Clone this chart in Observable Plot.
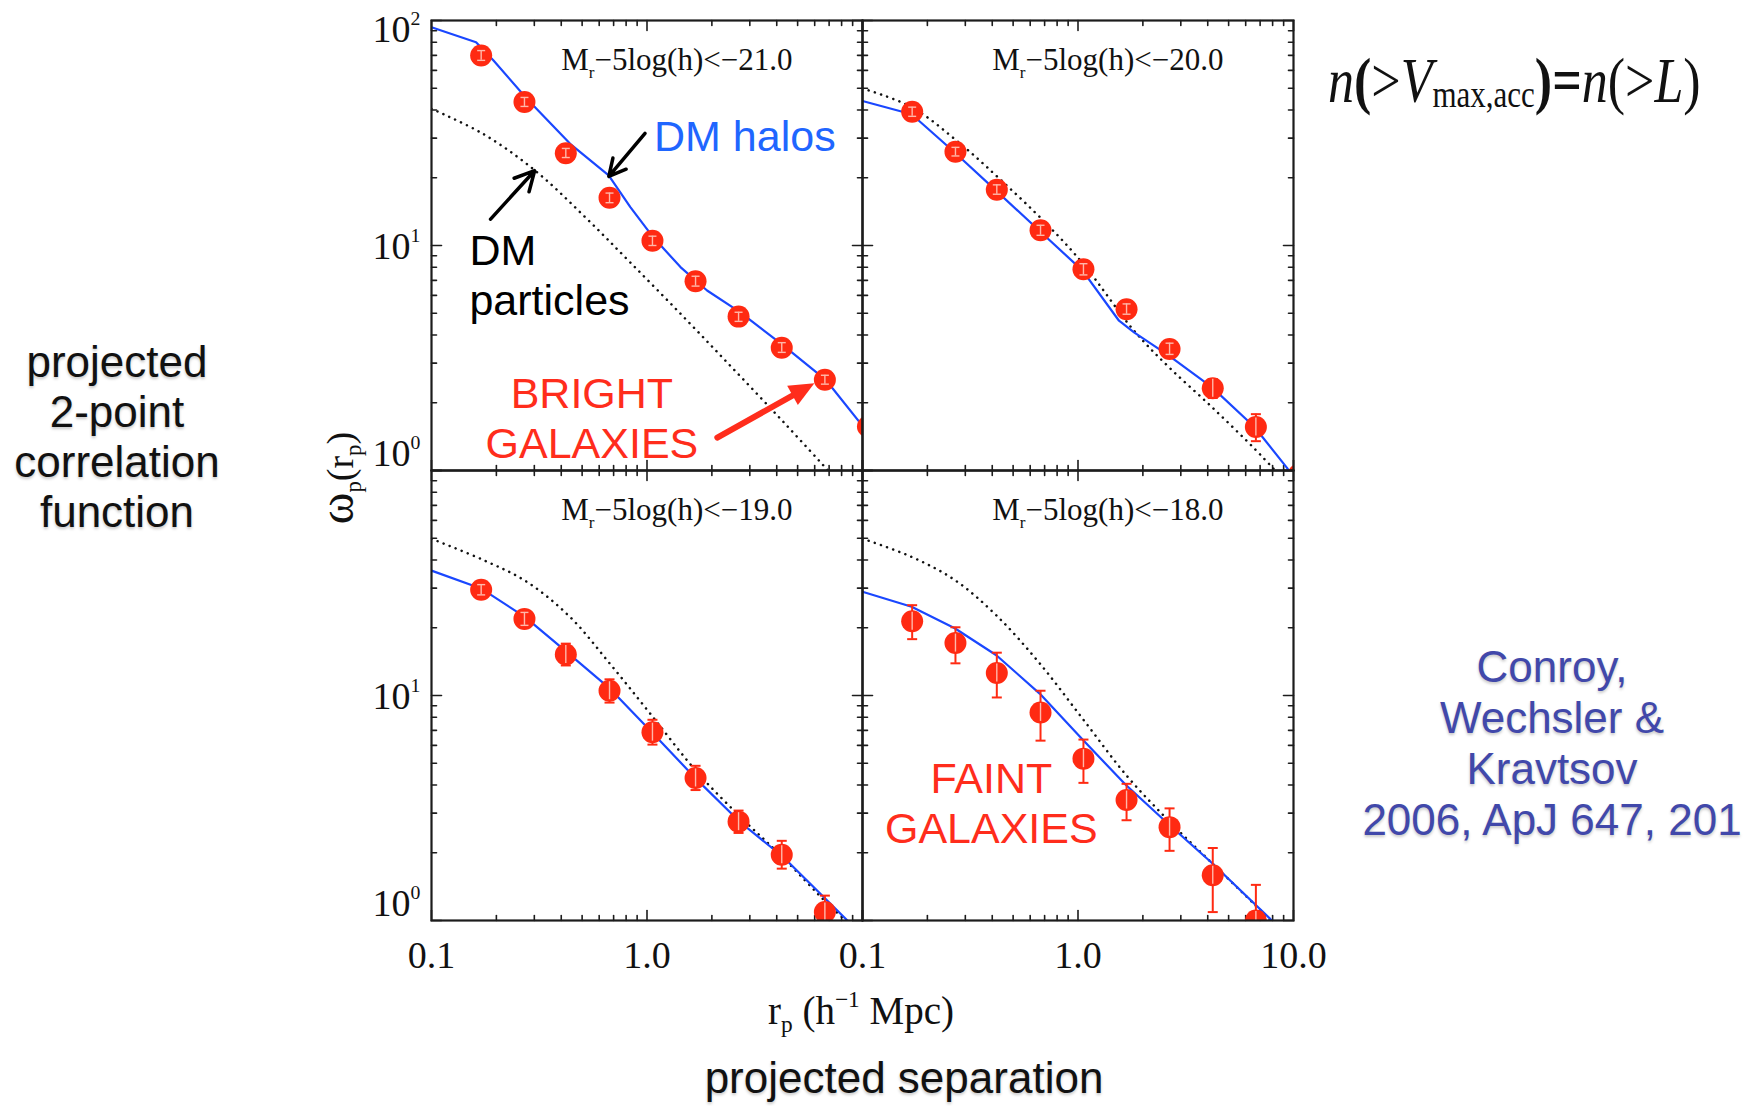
<!DOCTYPE html>
<html>
<head>
<meta charset="utf-8">
<script src="https://cdn.jsdelivr.net/npm/d3@7"></script>
<script src="https://cdn.jsdelivr.net/npm/@observablehq/plot@0.6"></script>
<style>
html, body { margin: 0; padding: 0; background: #fff; }
body { width: 1752px; height: 1106px; position: relative; overflow: hidden; }
#chart { position: absolute; left: 0; top: 0; }
.note { position: absolute; white-space: nowrap; font-family: 'Liberation Sans', Arial, Helvetica, sans-serif; }
.shadow { text-shadow: 0 2px 3px rgba(0,0,0,0.22); }
.serif { font-family: 'Liberation Serif', 'Times New Roman', Times, serif; }
.sb { font-size: 60%; position: relative; top: 0.35em; }
.sp { font-size: 60%; position: relative; top: -0.72em; }
</style>
</head>
<body>
<div id="chart"></div>

<div class="note shadow" id="leftNote" style="left:0;width:234px;top:337px;font-size:44px;line-height:50px;text-align:center;color:#111;">projected<br>2-point<br>correlation<br>function</div>

<div class="note shadow" id="bottomNote" style="left:604px;width:600px;top:1053px;font-size:44px;line-height:50px;text-align:center;color:#111;">projected separation</div>

<div class="note serif" id="yLabel" style="left:187px;top:458px;width:300px;font-size:38px;line-height:40px;text-align:center;color:#111;transform:rotate(-90deg);transform-origin:150px 20px;"><span style="font-size:48px;line-height:40px;">ω</span><span class="sb">p</span>(r<span class="sb">p</span>)</div>

<div class="note serif" id="xLabel" style="left:561px;top:991px;width:600px;font-size:39px;line-height:40px;text-align:center;color:#111;">r<span class="sb">p</span> (h<span class="sp">−1</span> Mpc)</div>

<div class="note serif" id="formula" style="left:1328px;top:55px;font-size:52px;line-height:60px;color:#111;transform:scaleY(1.2);transform-origin:0 47.5px;"><i>n</i><b>(</b>&gt;<i>V</i><span style="font-size:31px;position:relative;top:4px;">max,acc</span><b>)=</b><i>n</i>(&gt;<i>L</i>)</div>

<div class="note shadow" id="credit" style="left:1352px;width:400px;top:641px;font-size:44px;line-height:51px;text-align:center;color:#4148aa;">Conroy,<br>Wechsler &amp;<br>Kravtsov<br>2006, ApJ 647, 201</div>

<script>
// ---------------- data ----------------
const rp = [0.17, 0.27, 0.42, 0.67, 1.06, 1.68, 2.66, 4.22, 6.69, 10.6];

const panelMag = ["−21.0", "−20.0", "−19.0", "−18.0"];
const panelCol = [0, 1, 0, 1];
const panelRow = [0, 0, 1, 1];

// galaxy w_p(r_p) (points) with lower / upper error values
const wp21   = [69.9, 43.4, 25.7, 16.3, 10.5, 6.93, 4.83, 3.51, 2.53, 1.57];
const wp21Lo = [66.5, 41.5, 24.6, 15.5, 10.0, 6.6, 4.6, 3.35, 2.42, 1.5];
const wp21Hi = [73.5, 45.5, 27.0, 17.1, 11.0, 7.3, 5.05, 3.7, 2.65, 1.65];

const wp20   = [39.3, 26.1, 17.7, 11.7, 7.85, 5.21, 3.47, 2.32, 1.56, 0.96];
const wp20Lo = [37.5, 25.0, 16.9, 11.1, 7.4, 4.95, 3.28, 2.1, 1.35, 0.85];
const wp20Hi = [41.2, 27.3, 18.6, 12.3, 8.3, 5.5, 3.68, 2.55, 1.78, 1.08];

const wp19   = [29.5, 21.9, 15.2, 10.5, 6.87, 4.30, 2.75, 1.96, 1.09];
const wp19Lo = [28.0, 20.5, 13.6, 9.3, 6.05, 3.8, 2.45, 1.7, 0.92];
const wp19Hi = [31.1, 23.4, 17.0, 11.8, 7.8, 4.87, 3.08, 2.26, 1.29];

const wp18   = [21.4, 17.1, 12.6, 8.41, 5.24, 3.43, 2.60, 1.59, 1.0];
const wp18Lo = [17.8, 13.9, 9.8, 6.3, 4.09, 2.79, 2.04, 1.09, 0.7];
const wp18Hi = [25.2, 20.1, 15.5, 10.5, 6.37, 4.05, 3.15, 2.10, 1.44];

// DM halos (solid blue)
const haloX21 = [0.1, 0.161, 0.194, 0.277, 0.44, 0.664, 0.837, 1.067, 1.43, 1.90, 2.70, 4.30, 6.75, 10];
const haloY21 = [93.4, 80.1, 66.4, 44.9, 28.3, 20.5, 14.8, 10.9, 8.02, 6.31, 5.06, 3.59, 2.53, 1.58];
const haloX20 = [0.1, 0.169, 0.268, 0.418, 0.664, 1.05, 1.55, 1.82, 2.64, 4.19, 6.59, 9.31, 10];
const haloY20 = [43.9, 38.3, 25.9, 17.5, 11.6, 7.73, 4.63, 4.11, 3.24, 2.34, 1.56, 1.03, 0.93];
const haloX19 = [0.1, 0.171, 0.272, 0.425, 0.675, 1.07, 1.69, 2.70, 4.30, 8.51, 9.14];
const haloY19 = [35.9, 29.8, 22.3, 15.6, 10.7, 6.76, 4.26, 2.74, 1.91, 1.0, 0.93];
const haloX18 = [0.1, 0.169, 0.268, 0.418, 0.664, 1.05, 1.66, 2.64, 4.16, 7.94, 8.38];
const haloY18 = [28.9, 24.8, 19.9, 15.1, 10.2, 6.37, 4.02, 2.67, 1.81, 1.0, 0.946];

// DM particles (dotted black)
const partX21 = [0.1, 0.174, 0.303, 0.507, 0.837, 1.48, 2.53, 4.33, 7.13, 8.22];
const partY21 = [40.5, 31.3, 21.5, 13.6, 8.4, 4.81, 2.81, 1.63, 0.97, 0.84];
const partX20 = [0.1, 0.169, 0.286, 0.418, 0.719, 1.06, 1.82, 2.64, 4.19, 6.59, 8.22, 9.0];
const partY20 = [49.9, 41.2, 28.2, 20.4, 12.4, 8.26, 4.18, 2.88, 1.91, 1.25, 1.0, 0.91];
const partX19 = [0.1, 0.174, 0.277, 0.44, 0.675, 1.036, 1.71, 2.77, 4.17, 6.87, 8.36];
const partY19 = [49.7, 40.0, 32.0, 22.3, 13.8, 8.30, 4.56, 2.83, 1.95, 1.19, 1.0];
const partX18 = [0.1, 0.169, 0.268, 0.418, 0.664, 1.06, 1.69, 2.64, 4.16, 6.59, 7.85];
const partY18 = [49.8, 41.3, 32.6, 22.7, 13.9, 7.80, 4.38, 2.77, 1.81, 1.18, 1.0];

// axis ticks and labels
const xMajor = [0.1, 1, 10];
const xMinor = [0.2, 0.3, 0.4, 0.5, 0.6, 0.7, 0.8, 0.9, 2, 3, 4, 5, 6, 7, 8, 9];
const yMajor = [1, 10, 100];
const yMinor = [2, 3, 4, 5, 6, 7, 8, 9, 20, 30, 40, 50, 60, 70, 80, 90];
const xTickText = ["0.1", "1.0", "10.0"];
const yTickText = ["10^{0}", "10^{1}", "10^{2}"];

// annotations (anchored in data space of their panel)
const annText  = ["DM halos", "DM\nparticles", "BRIGHT\nGALAXIES", "FAINT\nGALAXIES"];
const annPanel = [0, 0, 0, 3];
const annX     = [1.078, 0.150, 0.555, 0.396];
const annY     = [26.4, 4.89, 1.14, 2.20];
const arrowPanel = [0, 0, 0];
const arrowX1 = [0.979, 0.188, 2.12];
const arrowY1 = [31.5, 13.1, 1.40];
const arrowX2 = [0.665, 0.301, 5.98];
const arrowY2 = [20.3, 21.5, 2.44];

// ---------------- build tables ----------------
const obsW  = [wp21, wp20, wp19, wp18];
const obsLo = [wp21Lo, wp20Lo, wp19Lo, wp18Lo];
const obsHi = [wp21Hi, wp20Hi, wp19Hi, wp18Hi];
const haloXs = [haloX21, haloX20, haloX19, haloX18];
const haloYs = [haloY21, haloY20, haloY19, haloY18];
const partXs = [partX21, partX20, partX19, partX18];
const partYs = [partY21, partY20, partY19, partY18];

const pointRows = [];
obsW.forEach((w, p) => w.forEach((v, i) => pointRows.push({
  fx: panelCol[p], fy: panelRow[p], x: rp[i], y: v, lo: obsLo[p][i], hi: obsHi[p][i]
})));
const curveRows = (xsAll, ysAll) => xsAll.flatMap((xs, p) =>
  xs.map((x, i) => ({fx: panelCol[p], fy: panelRow[p], x, y: ysAll[p][i]})));
const haloRows = curveRows(haloXs, haloYs);
const partRows = curveRows(partXs, partYs);

const labelRows = panelMag.map((m, p) => ({fx: panelCol[p], fy: panelRow[p], x: 0.40, y: 60, text: "M_{r}−5log(h)<" + m}));

const xLabelRows = [];
[0, 1].forEach(c => xMajor.forEach((v, i) => {
  if (c === 0 && i === 2) return;
  xLabelRows.push({fx: c, fy: 1, x: v, text: xTickText[i]});
}));
const yLabelRows = [];
[0, 1].forEach(r => yMajor.forEach((v, i) => {
  if (r === 1 && i === 2) return;
  yLabelRows.push({fx: 0, fy: r, y: v, text: yTickText[i]});
}));

const annRows = annText.map((t, i) => ({fx: panelCol[annPanel[i]], fy: panelRow[annPanel[i]], x: annX[i], y: annY[i], text: t, k: i}));
const arrowRows = arrowX1.map((x1, i) => ({fx: panelCol[arrowPanel[i]], fy: panelRow[arrowPanel[i]], x1, y1: arrowY1[i], x2: arrowX2[i], y2: arrowY2[i], k: i}));

// ---------------- styles ----------------
const serif = "'Liberation Serif','Times New Roman',Times,serif";
const sans = "'Liberation Sans',Arial,Helvetica,sans-serif";
const RED = "#ff2a12", LIGHT = "#ffb8aa", BLUE = "#1a47ff", INK = "#1c1c1c", ARROW_RED = "#ff2d1c";
const K = Math.pow(10, 9 / 225); // part of an error bar hidden inside a dot
const cap = {draw(ctx) { ctx.moveTo(-5, 0); ctx.lineTo(5, 0); }};
const capIn = {draw(ctx) { ctx.moveTo(-4, 0); ctx.lineTo(4, 0); }};
const stick = {draw(ctx, l) { ctx.moveTo(0, 0); ctx.lineTo(0, -l); }};
// filled arrow head whose tip sits at the origin, pointing up
const head = {draw(ctx) { ctx.moveTo(0, 0); ctx.lineTo(11, 25); ctx.lineTo(-11, 25); ctx.closePath(); }};
const F = {fx: "fx", fy: "fy"};

// inward tick marks on one side of every panel frame
function ticks(values, side, len) {
  const horiz = side === "top" || side === "bottom";
  const rotate = {bottom: 0, top: 180, left: 90, right: -90}[side];
  return Plot.vector(values, {
    [horiz ? "x" : "y"]: d => d,
    frameAnchor: side, anchor: "start", rotate, length: len, shape: stick,
    stroke: INK, strokeWidth: 1.6
  });
}

const chart = Plot.plot({
  width: 1752, height: 1106,
  marginLeft: 430, marginRight: 459, marginTop: 20, marginBottom: 186,
  style: {background: "white", fontFamily: serif, color: INK},
  fx: {domain: [0, 1], padding: 0, axis: null},
  fy: {domain: [0, 1], padding: 0, axis: null},
  x: {type: "log", domain: [0.1, 10], axis: null},
  y: {type: "log", domain: [1, 100], axis: null},
  marks: [
    ...["top", "bottom"].flatMap(s => [ticks(xMajor, s, 10), ticks(xMinor, s, 5)]),
    ...["left", "right"].flatMap(s => [ticks(yMajor, s, 10), ticks(yMinor, s, 5)]),

    // model curves
    Plot.line(partRows, {...F, x: "x", y: "y", stroke: "#111", strokeWidth: 2.5, strokeDasharray: "0.1,6.4", strokeLinecap: "round", curve: "catmull-rom", clip: true}),
    Plot.line(haloRows, {...F, x: "x", y: "y", stroke: BLUE, strokeWidth: 2.2, clip: true}),

    // error bars (red outside the dots)
    Plot.ruleX(pointRows, {...F, x: "x", y1: "lo", y2: "hi", stroke: RED, strokeWidth: 2, clip: true}),
    Plot.dot(pointRows, {...F, x: "x", y: "lo", symbol: cap, r: 5, fill: "none", stroke: RED, strokeWidth: 2, clip: true}),
    Plot.dot(pointRows, {...F, x: "x", y: "hi", symbol: cap, r: 5, fill: "none", stroke: RED, strokeWidth: 2, clip: true}),
    // galaxy points
    Plot.dot(pointRows, {...F, x: "x", y: "y", r: 11, fill: RED, stroke: "none", clip: true}),
    // error bars seen through the dots (pale)
    Plot.ruleX(pointRows, {...F, x: "x", y1: d => Math.max(d.lo, d.y / K), y2: d => Math.min(d.hi, d.y * K), stroke: LIGHT, strokeWidth: 1.4, clip: true}),
    Plot.dot(pointRows, {...F, filter: d => d.lo > d.y / K, x: "x", y: "lo", symbol: capIn, r: 4, fill: "none", stroke: LIGHT, strokeWidth: 1.4, clip: true}),
    Plot.dot(pointRows, {...F, filter: d => d.hi < d.y * K, x: "x", y: "hi", symbol: capIn, r: 4, fill: "none", stroke: LIGHT, strokeWidth: 1.4, clip: true}),

    // frames
    Plot.frame({stroke: INK, strokeWidth: 2.2}),

    // panel labels
    Plot.text(labelRows, {...F, x: "x", y: "y", text: "text", textAnchor: "start", lineAnchor: "bottom", fontSize: 31, fontFamily: serif, fill: "#111"}),

    // annotations
    Plot.text(annRows, {...F, filter: d => d.k === 0, x: "x", y: "y", text: "text", textAnchor: "start", lineAnchor: "bottom", fontSize: 43, fontFamily: sans, fill: "#1f66ff"}),
    Plot.text(annRows, {...F, filter: d => d.k === 1, x: "x", y: "y", text: "text", textAnchor: "start", lineAnchor: "bottom", lineHeight: 50 / 43, fontSize: 43, fontFamily: sans, fill: "#000"}),
    Plot.text(annRows, {...F, filter: d => d.k >= 2, x: "x", y: "y", text: "text", textAnchor: "middle", lineAnchor: "bottom", lineHeight: 50 / 43, fontSize: 43, fontFamily: sans, fill: ARROW_RED}),
    Plot.arrow(arrowRows, {...F, filter: d => d.k < 2, x1: "x1", y1: "y1", x2: "x2", y2: "y2", stroke: "#000", strokeWidth: 3.5, headLength: 17, headAngle: 55}),
    Plot.arrow(arrowRows, {...F, filter: d => d.k === 2, x1: "x1", y1: "y1", x2: "x2", y2: "y2", stroke: ARROW_RED, strokeWidth: 6, headLength: 0, insetEnd: 18}),
    Plot.dot(arrowRows, {...F, filter: d => d.k === 2, x: "x2", y: "y2", symbol: head, rotate: 61, r: 10, fill: ARROW_RED, stroke: "none"}),

    // tick labels
    Plot.text(xLabelRows, {...F, x: "x", text: "text", frameAnchor: "bottom", dy: 47, fontSize: 38, fontFamily: serif, fill: "#111"}),
    Plot.text(yLabelRows, {...F, filter: d => d.y === 100, y: "y", text: "text", frameAnchor: "left", textAnchor: "end", dx: -11, dy: 9, fontSize: 38, fontFamily: serif, fill: "#111"}),
    Plot.text(yLabelRows, {...F, filter: d => d.y === 10, y: "y", text: "text", frameAnchor: "left", textAnchor: "end", dx: -11, dy: 1, fontSize: 38, fontFamily: serif, fill: "#111"}),
    Plot.text(yLabelRows, {...F, filter: d => d.y === 1, y: "y", text: "text", frameAnchor: "left", textAnchor: "end", dx: -11, dy: -17, fontSize: 38, fontFamily: serif, fill: "#111"})
  ]
});
document.getElementById("chart").appendChild(chart);

// turn _{..} / ^{..} markup into real subscript / superscript tspans
function richText(svg) {
  const NS = "http://www.w3.org/2000/svg";
  svg.querySelectorAll("text").forEach(t => {
    if (t.querySelector("tspan")) return;
    const s = t.textContent;
    if (!/[_^]\{/.test(s)) return;
    const fs = parseFloat(getComputedStyle(t).fontSize) || 30;
    const parts = s.split(/([_^]\{[^}]*\})/).filter(p => p);
    t.textContent = "";
    let cur = 0;
    for (const p of parts) {
      const ts = document.createElementNS(NS, "tspan");
      let off = 0, txt = p, small = 0;
      if (p.startsWith("_{")) { off = 0.24 * fs; txt = p.slice(2, -1); small = 0.55; }
      else if (p.startsWith("^{")) { off = -0.45 * fs; txt = p.slice(2, -1); small = 0.52; }
      if (off !== cur) ts.setAttribute("dy", (off - cur).toFixed(2));
      cur = off;
      if (small) ts.setAttribute("font-size", (small * fs).toFixed(1));
      ts.textContent = txt;
      t.appendChild(ts);
    }
  });
}
richText(chart);
</script>
</body>
</html>
